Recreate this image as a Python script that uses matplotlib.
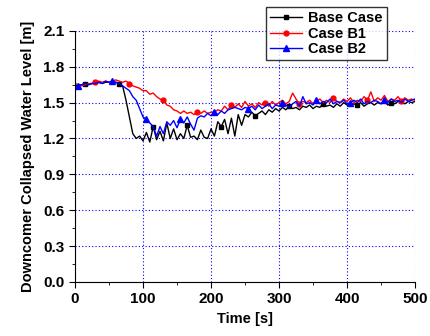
import numpy as np
import matplotlib
matplotlib.use("Agg")
from matplotlib import pyplot as plt
from matplotlib.ticker import MultipleLocator

plt.rcParams['font.family'] = ['Liberation Sans', 'DejaVu Sans']
plt.rcParams['font.weight'] = 'bold'

# time axis, 5 s steps
time = np.arange(0, 505, 5)

base_case = [
    1.64, 1.65, 1.65, 1.66, 1.65, 1.66, 1.66, 1.67, 1.66, 1.67,
    1.67, 1.66, 1.67, 1.66, 1.64, 1.52, 1.38, 1.24, 1.20, 1.22,
    1.18, 1.25, 1.17, 1.30, 1.19, 1.26, 1.18, 1.33, 1.20, 1.28,
    1.19, 1.24, 1.20, 1.31, 1.21, 1.22, 1.19, 1.27, 1.21, 1.20,
    1.28, 1.22, 1.34, 1.30, 1.36, 1.24, 1.37, 1.22, 1.40, 1.31,
    1.40, 1.38, 1.42, 1.39, 1.41, 1.43, 1.40, 1.44, 1.42, 1.45,
    1.43, 1.46, 1.44, 1.47, 1.45, 1.46, 1.44, 1.47, 1.46, 1.48,
    1.45, 1.47, 1.46, 1.49, 1.47, 1.48, 1.46, 1.49, 1.47, 1.50,
    1.48, 1.47, 1.49, 1.48, 1.50, 1.47, 1.49, 1.50, 1.48, 1.50,
    1.49, 1.51, 1.48, 1.50, 1.49, 1.51, 1.50, 1.49, 1.51, 1.50,
    1.51]

case_b1 = [
    1.66, 1.65, 1.64, 1.65, 1.66, 1.66, 1.67, 1.68, 1.67, 1.68,
    1.67, 1.68, 1.69, 1.68, 1.67, 1.68, 1.66, 1.64, 1.63, 1.62,
    1.60, 1.60, 1.57, 1.58, 1.55, 1.53, 1.52, 1.48, 1.47, 1.44,
    1.43, 1.41, 1.43, 1.41, 1.42, 1.40, 1.42, 1.41, 1.43, 1.41,
    1.42, 1.42, 1.44, 1.43, 1.47, 1.44, 1.48, 1.46, 1.49, 1.46,
    1.51, 1.47, 1.49, 1.46, 1.50, 1.48, 1.50, 1.47, 1.51, 1.48,
    1.50, 1.52, 1.49, 1.51, 1.58, 1.53, 1.49, 1.51, 1.50, 1.52,
    1.49, 1.51, 1.53, 1.50, 1.52, 1.50, 1.54, 1.51, 1.50, 1.53,
    1.51, 1.54, 1.50, 1.52, 1.51, 1.55, 1.52, 1.59, 1.51, 1.54,
    1.52, 1.56, 1.51, 1.53, 1.52, 1.55, 1.51, 1.54, 1.52, 1.53,
    1.52]

case_b2 = [
    1.62, 1.64, 1.65, 1.66, 1.65, 1.66, 1.66, 1.67, 1.66, 1.68,
    1.67, 1.68, 1.67, 1.66, 1.64, 1.62, 1.60, 1.55, 1.52, 1.45,
    1.38, 1.36, 1.33, 1.30, 1.22, 1.30, 1.24, 1.34, 1.31, 1.35,
    1.29, 1.36, 1.33, 1.38, 1.32, 1.27, 1.37, 1.39, 1.38, 1.41,
    1.39, 1.42, 1.40, 1.43, 1.41, 1.44, 1.45, 1.46, 1.45, 1.44,
    1.46, 1.45, 1.47, 1.44, 1.48, 1.45, 1.47, 1.49, 1.45, 1.48,
    1.47, 1.50, 1.48, 1.46, 1.49, 1.51, 1.47, 1.55, 1.49, 1.50,
    1.48, 1.52, 1.49, 1.51, 1.50, 1.53, 1.49, 1.51, 1.50, 1.52,
    1.49, 1.50, 1.52, 1.50, 1.53, 1.49, 1.51, 1.50, 1.52, 1.51,
    1.49, 1.52, 1.50, 1.53, 1.51, 1.52, 1.50, 1.53, 1.51, 1.52,
    1.53]

fig = plt.figure(figsize=(4.31, 3.36), dpi=100)
ax = fig.add_axes([0.174, 0.161, 0.789, 0.747])

ax.plot(time, base_case, color='black', lw=1, marker='s', ms=3.5,
        markevery=(3, 10), label='Base Case')
ax.plot(time, case_b1, color='red', lw=1, marker='o', ms=3.5,
        markevery=(6, 10), label='Case B1')
ax.plot(time, case_b2, color='blue', lw=1, marker='^', ms=4,
        markevery=(1, 10), label='Case B2')

ax.set_xlim(0, 500)
ax.set_ylim(0, 2.1)
ax.xaxis.set_major_locator(MultipleLocator(100))
ax.xaxis.set_minor_locator(MultipleLocator(50))
ax.yaxis.set_major_locator(MultipleLocator(0.3))
ax.yaxis.set_minor_locator(MultipleLocator(0.15))
ax.yaxis.set_major_formatter(matplotlib.ticker.FormatStrFormatter('%.1f'))

ax.grid(True, which='major', color='blue', ls=(0, (1, 2)), lw=0.8)
ax.spines['top'].set_visible(False)
ax.spines['right'].set_visible(False)
ax.tick_params(which='both', direction='out', labelsize=11)
ax.tick_params(which='major', length=4)
ax.tick_params(which='minor', length=2.5)

ax.set_xlabel('Time [s]', fontsize=10.5, fontweight='bold', labelpad=4)
ax.set_ylabel('Downcomer Collapsed Water Level [m]', fontsize=10.5,
              fontweight='bold', labelpad=6)

leg = ax.legend(loc='upper left', bbox_to_anchor=(0.54, 1.125), fontsize=10.5,
                frameon=True, fancybox=False, edgecolor='black',
                handlelength=2.2, borderpad=0.3, labelspacing=0.1,
                handletextpad=0.4)
leg.get_frame().set_linewidth(1)

fig.savefig('out.png', dpi=100)
